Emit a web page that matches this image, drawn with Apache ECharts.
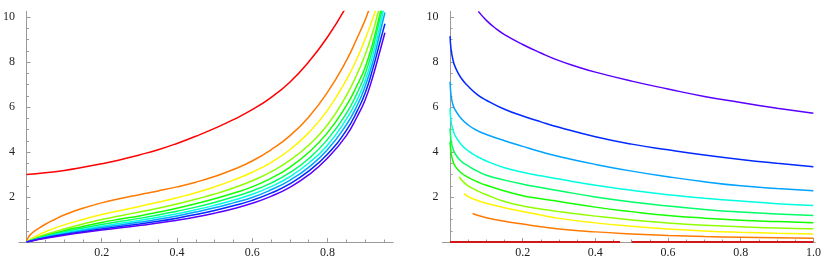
<!DOCTYPE html>
<html>
<head>
<meta charset="utf-8">
<script src="https://cdn.jsdelivr.net/npm/echarts@6/dist/echarts.min.js"></script>
<style>
html,body{margin:0;padding:0;background:#fff;}
#c{width:830px;height:273px;}
</style>
</head>
<body>
<div id="c"></div>
<script>
// ---------- tick labels ----------
const leftXMajor = [0.2, 0.4, 0.6, 0.8];
const leftXMinor = [0.05,0.1,0.15,0.25,0.3,0.35,0.45,0.5,0.55,0.65,0.7,0.75,0.85,0.9,0.95];
const rightXMajor = [0.2, 0.4, 0.6, 0.8, 1.0];
const rightXMinor = [0.05,0.1,0.15,0.25,0.3,0.35,0.45,0.5,0.55,0.65,0.7,0.75,0.85,0.9,0.95];
const yMajor = [2, 4, 6, 8, 10];
const yMinor = [0.5,1,1.5,2.5,3,3.5,4.5,5,5.5,6.5,7,7.5,8.5,9,9.5];

const colors = ['#ff0000','#ff7a00','#fff500','#8fff00','#14ff00','#00ff66','#00ffe0','#00a3ff','#0029ff','#5a00ff'];

// ---------- left panel curves ----------
const L1 = [[0,3.0],[0.05,3.08],[0.1,3.18],[0.15,3.32],[0.2,3.48],[0.25,3.66],[0.3,3.87],[0.35,4.1],[0.4,4.38],[0.45,4.7],[0.5,5.05],[0.55,5.44],[0.6,5.88],[0.65,6.42],[0.7,7.1],[0.75,8.0],[0.8,9.1],[0.85,10.45]];
const L2 = [[0,0],[0.005,0.22],[0.015,0.4],[0.03,0.58],[0.05,0.79],[0.075,1.0],[0.1,1.2],[0.15,1.5],[0.2,1.74],[0.25,1.935],[0.3,2.105],[0.35,2.27],[0.4,2.45],[0.45,2.66],[0.5,2.91],[0.55,3.22],[0.6,3.6],[0.65,4.1],[0.7,4.72],[0.75,5.55],[0.8,6.65],[0.85,8.05],[0.88,9.1],[0.9,9.85],[0.91,10.3]];
const L3 = [[0,0],[0.01,0.12],[0.03,0.3],[0.06,0.52],[0.1,0.76],[0.15,1.0],[0.2,1.22],[0.25,1.4],[0.3,1.58],[0.35,1.77],[0.4,1.97],[0.45,2.19],[0.5,2.45],[0.55,2.75],[0.6,3.1],[0.65,3.53],[0.7,4.1],[0.75,4.85],[0.8,5.85],[0.85,7.2],[0.88,8.2],[0.9,9.0],[0.92,9.9],[0.93,10.4]];
const L4 = [[0,0],[0.02,0.15],[0.05,0.33],[0.1,0.58],[0.15,0.8],[0.2,1.0],[0.25,1.17],[0.3,1.33],[0.35,1.5],[0.4,1.69],[0.45,1.9],[0.5,2.13],[0.55,2.4],[0.6,2.72],[0.65,3.12],[0.7,3.63],[0.75,4.3],[0.8,5.2],[0.85,6.5],[0.88,7.5],[0.9,8.3],[0.92,9.3],[0.935,10.2],[0.94,10.5]];
const L5 = [[0,0],[0.02,0.12],[0.05,0.28],[0.1,0.5],[0.15,0.69],[0.2,0.87],[0.25,1.02],[0.3,1.16],[0.35,1.32],[0.4,1.5],[0.45,1.7],[0.5,1.92],[0.55,2.17],[0.6,2.45],[0.65,2.83],[0.7,3.32],[0.75,3.98],[0.8,4.85],[0.85,6.05],[0.88,7.0],[0.9,7.75],[0.92,8.8],[0.935,9.8],[0.945,10.5]];
const L6 = [[0,0],[0.02,0.11],[0.05,0.25],[0.1,0.45],[0.15,0.62],[0.2,0.78],[0.25,0.92],[0.3,1.05],[0.35,1.2],[0.4,1.37],[0.45,1.55],[0.5,1.76],[0.55,2.0],[0.6,2.27],[0.65,2.62],[0.7,3.08],[0.75,3.7],[0.8,4.55],[0.85,5.7],[0.88,6.65],[0.9,7.45],[0.92,8.55],[0.935,9.6],[0.947,10.4]];
const L7 = [[0,0],[0.02,0.1],[0.05,0.23],[0.1,0.41],[0.15,0.56],[0.2,0.7],[0.25,0.83],[0.3,0.96],[0.35,1.1],[0.4,1.26],[0.45,1.43],[0.5,1.63],[0.55,1.86],[0.6,2.12],[0.65,2.46],[0.7,2.9],[0.75,3.5],[0.8,4.3],[0.85,5.45],[0.88,6.35],[0.9,7.15],[0.92,8.25],[0.94,9.6],[0.95,10.4]];
const L8 = [[0,0],[0.02,0.09],[0.05,0.21],[0.1,0.37],[0.15,0.51],[0.2,0.64],[0.25,0.76],[0.3,0.88],[0.35,1.01],[0.4,1.16],[0.45,1.33],[0.5,1.52],[0.55,1.74],[0.6,1.98],[0.65,2.32],[0.7,2.74],[0.75,3.32],[0.8,4.1],[0.85,5.2],[0.88,6.1],[0.9,6.9],[0.92,7.95],[0.94,9.3],[0.953,10.2]];
const L9 = [[0,0],[0.02,0.08],[0.05,0.19],[0.1,0.33],[0.15,0.46],[0.2,0.58],[0.25,0.69],[0.3,0.8],[0.35,0.92],[0.4,1.06],[0.45,1.22],[0.5,1.4],[0.55,1.61],[0.6,1.85],[0.65,2.17],[0.7,2.58],[0.75,3.15],[0.8,3.9],[0.85,4.95],[0.88,5.85],[0.9,6.6],[0.92,7.65],[0.94,8.9],[0.953,9.7]];
const L10 = [[0,0],[0.02,0.07],[0.05,0.17],[0.1,0.3],[0.15,0.42],[0.2,0.53],[0.25,0.63],[0.3,0.73],[0.35,0.84],[0.4,0.97],[0.45,1.11],[0.5,1.28],[0.55,1.48],[0.6,1.72],[0.65,2.03],[0.7,2.43],[0.75,2.98],[0.8,3.72],[0.85,4.72],[0.88,5.6],[0.9,6.3],[0.92,7.3],[0.94,8.5],[0.953,9.3]];

// ---------- right panel curves ----------
const R1 = [[0,0],[0.468,0],[0.484,null],[0.5,0],[1.0,0]];
const R2 = [[0.062,1.27],[0.08,1.17],[0.1,1.08],[0.15,0.92],[0.2,0.8],[0.25,0.68],[0.3,0.58],[0.4,0.45],[0.5,0.36],[0.6,0.29],[0.7,0.24],[0.8,0.21],[0.9,0.19],[1.0,0.17]];
const R3 = [[0.039,2.15],[0.05,2.02],[0.075,1.85],[0.1,1.72],[0.15,1.52],[0.2,1.36],[0.25,1.2],[0.3,1.05],[0.4,0.85],[0.5,0.7],[0.6,0.58],[0.7,0.49],[0.8,0.43],[0.9,0.39],[1.0,0.36]];
const R4 = [[0.025,2.9],[0.035,2.7],[0.05,2.5],[0.075,2.28],[0.1,2.1],[0.15,1.8],[0.2,1.6],[0.25,1.47],[0.3,1.35],[0.4,1.15],[0.5,0.98],[0.6,0.85],[0.7,0.75],[0.8,0.68],[0.9,0.62],[1.0,0.585]];
const R5 = [[0,4.46],[0.003,3.95],[0.008,3.6],[0.015,3.35],[0.03,3.08],[0.05,2.87],[0.075,2.68],[0.1,2.52],[0.15,2.27],[0.2,2.06],[0.25,1.92],[0.3,1.8],[0.4,1.55],[0.5,1.35],[0.6,1.18],[0.7,1.06],[0.8,0.97],[0.9,0.91],[1.0,0.86]];
const R6 = [[0,5.05],[0.003,4.5],[0.008,4.15],[0.015,3.9],[0.03,3.6],[0.05,3.38],[0.075,3.15],[0.1,2.97],[0.15,2.75],[0.2,2.57],[0.25,2.42],[0.3,2.28],[0.4,2.0],[0.5,1.78],[0.6,1.6],[0.7,1.45],[0.8,1.33],[0.9,1.24],[1.0,1.18]];
const R7 = [[0,5.94],[0.003,5.35],[0.008,5.0],[0.015,4.7],[0.03,4.35],[0.05,4.05],[0.075,3.8],[0.1,3.6],[0.15,3.3],[0.2,3.1],[0.25,2.94],[0.3,2.8],[0.4,2.52],[0.5,2.3],[0.6,2.1],[0.7,1.95],[0.8,1.82],[0.9,1.7],[1.0,1.62]];
const R8 = [[0,7.12],[0.003,6.5],[0.008,6.1],[0.015,5.85],[0.03,5.5],[0.05,5.2],[0.075,4.95],[0.1,4.78],[0.15,4.5],[0.2,4.25],[0.25,4.01],[0.3,3.8],[0.4,3.45],[0.5,3.15],[0.6,2.9],[0.7,2.68],[0.8,2.5],[0.9,2.38],[1.0,2.28]];
const R9 = [[0,9.15],[0.003,8.55],[0.008,8.1],[0.015,7.75],[0.03,7.3],[0.05,6.92],[0.075,6.55],[0.1,6.3],[0.15,5.9],[0.2,5.6],[0.25,5.34],[0.3,5.1],[0.4,4.68],[0.5,4.35],[0.6,4.1],[0.7,3.87],[0.8,3.67],[0.9,3.5],[1.0,3.35]];
const R10 = [[0.078,10.25],[0.1,9.85],[0.125,9.5],[0.15,9.22],[0.2,8.78],[0.25,8.4],[0.3,8.06],[0.35,7.79],[0.4,7.55],[0.5,7.15],[0.6,6.8],[0.7,6.47],[0.8,6.2],[0.9,5.95],[1.0,5.72]];

const leftCurves = [L1,L2,L3,L4,L5,L6,L7,L8,L9,L10];
const rightCurves = [R1,R2,R3,R4,R5,R6,R7,R8,R9,R10];

// ---------- build option ----------
const axisColor = '#9a9a9a';
const labelStyle = {color:'#222', fontFamily:'"Liberation Serif", "DejaVu Serif", serif', fontSize:12};
const Y_MAX = 10.25;

function xAxes(grid, min, max, major, minor) {
  return [
    {gridIndex:grid, type:'value', min:min, max:max, position:'bottom',
     axisLine:{show:true, onZero:true, lineStyle:{color:axisColor, width:1}},
     axisTick:{show:true, inside:true, length:4, customValues:major, lineStyle:{color:axisColor}},
     axisLabel:Object.assign({show:true, margin:5, customValues:major, formatter:v=>v.toFixed(1)}, labelStyle),
     splitLine:{show:false}},
    {gridIndex:grid, type:'value', min:min, max:max, position:'bottom',
     axisLine:{show:false},
     axisTick:{show:true, inside:true, length:2.5, customValues:minor, lineStyle:{color:axisColor}},
     axisLabel:{show:false}, splitLine:{show:false}}
  ];
}
function yAxes(grid, xIdx) {
  return [
    {gridIndex:grid, type:'value', min:0, max:Y_MAX, position:'left',
     axisLine:{show:true, onZero:true, onZeroAxisIndex:xIdx, lineStyle:{color:axisColor, width:1}},
     axisTick:{show:true, inside:true, length:4, customValues:yMajor, lineStyle:{color:axisColor}},
     axisLabel:Object.assign({show:true, margin:4, customValues:yMajor}, labelStyle),
     splitLine:{show:false}},
    {gridIndex:grid, type:'value', min:0, max:Y_MAX, position:'left',
     axisLine:{show:false, onZero:true, onZeroAxisIndex:xIdx},
     axisTick:{show:true, inside:true, length:2.5, customValues:yMinor, lineStyle:{color:axisColor}},
     axisLabel:{show:false}, splitLine:{show:false}}
  ];
}

const series = [];
leftCurves.forEach((d,i)=>series.push({type:'line', xAxisIndex:0, yAxisIndex:0, data:d, showSymbol:false,
  smooth:0.5, clip:true, lineStyle:{color:colors[i], width:1.5}, z:3+i}));
rightCurves.forEach((d,i)=>series.push({type:'line', xAxisIndex:2, yAxisIndex:2, data:d, showSymbol:false,
  smooth:0.5, clip:true, connectNulls:false,
  lineStyle:{color: i===0 ? '#d01818' : colors[i], width: i===0 ? 2 : 1.5}, z:3+i}));

const option = {
  animation:false,
  backgroundColor:'#fff',
  grid:[
    {left:15.1, top:11.4, width:378.1, height:230.6},
    {left:442.4, top:11.4, width:372.8, height:230.6}
  ],
  xAxis: xAxes(0,-0.02,0.975,leftXMajor,leftXMinor).concat(xAxes(1,-0.021,1.005,rightXMajor,rightXMinor)),
  yAxis: yAxes(0,0).concat(yAxes(1,2)),
  series: series
};
const chart = echarts.init(document.getElementById('c'), null, {renderer:'canvas'});
chart.setOption(option);
</script>
</body>
</html>
